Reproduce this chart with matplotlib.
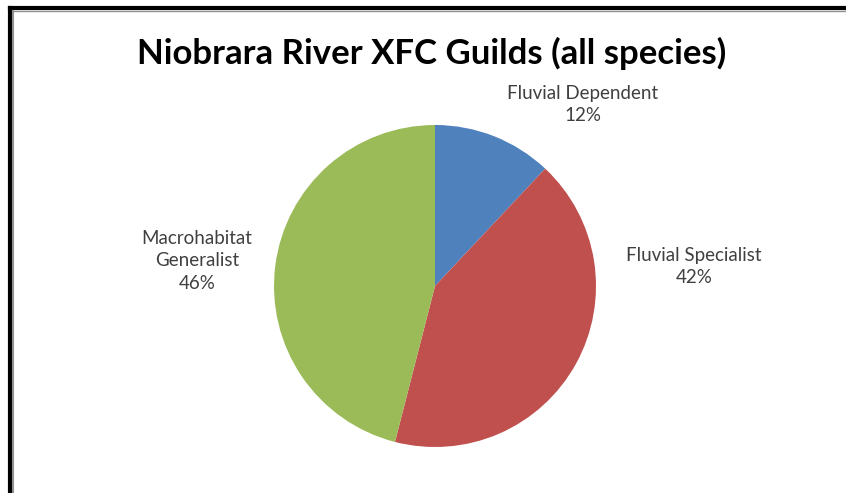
import matplotlib
matplotlib.use("Agg")
import matplotlib.pyplot as plt
from matplotlib.lines import Line2D

# guild shares (percent)
guilds = ["Fluvial Dependent", "Fluvial Specialist", "Macrohabitat\nGeneralist"]
shares = [12, 42, 46]
colors = ["#4F81BD", "#C0504D", "#9BBB59"]

plt.rcParams["font.family"] = ["Lato", "DejaVu Sans"]

W, H = 846, 493
fig = plt.figure(figsize=(W / 100, H / 100), dpi=100)

# pie axes: centre (435, 286) px, radius 161 px
cx, cy, r = 435, 286, 161
ax = fig.add_axes([(cx - r) / W, (H - cy - r) / H, 2 * r / W, 2 * r / H])
ax.pie(shares, colors=colors, startangle=90, counterclock=False, radius=1,
       wedgeprops=dict(linewidth=0))
ax.set_xlim(-1, 1)
ax.set_ylim(-1, 1)
ax.set_aspect("equal")
ax.axis("off")

# data labels
label_pos = [(583, 104.5), (694, 266.5), (197, 261)]
for name, val, (px, py) in zip(guilds, shares, label_pos):
    fig.text(px / W, 1 - py / H, f"{name}\n{val}%", ha="center", va="center",
             fontsize=13.5, color="#404040", linespacing=1.42)

fig.text(432 / W, 1 - 53 / H, "Niobrara River XFC Guilds (all species)",
         ha="center", va="center", fontsize=25, fontweight="bold", color="black")

# chart frame (left and top edges visible)
fig.add_artist(Line2D([10 / W, 10 / W], [0, 1 - 8 / H], color="black", lw=3, transform=fig.transFigure))
fig.add_artist(Line2D([10 / W, 1], [1 - 8 / H, 1 - 8 / H], color="black", lw=3, transform=fig.transFigure))
fig.add_artist(Line2D([13 / W, 13 / W], [0, 1 - 10.5 / H], color="#909090", lw=1.5, transform=fig.transFigure))
fig.add_artist(Line2D([13 / W, 1], [1 - 10.5 / H, 1 - 10.5 / H], color="#909090", lw=1, transform=fig.transFigure))

fig.savefig("out.png", dpi=100)
